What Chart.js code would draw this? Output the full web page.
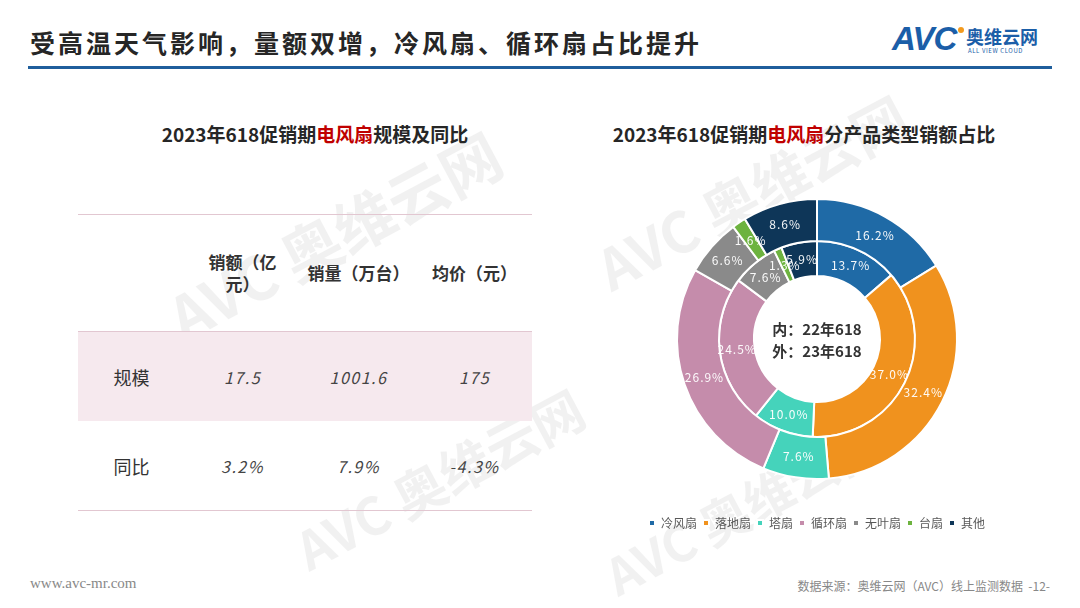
<!DOCTYPE html>
<html lang="zh">
<head>
<meta charset="UTF-8">
<title>电风扇 618</title>
<script src="https://cdn.jsdelivr.net/npm/chart.js"></script>
<style>
    body { margin: 0; width: 1080px; height: 608px; background: #fff; position: relative; overflow: hidden;
           font-family: "Noto Sans CJK SC", "Noto Sans", sans-serif; }
    .abs { position: absolute; }
    #title { left: 30px; top: 24px; font-size: 25px; font-weight: bold; color: #262626; letter-spacing: 3px; }
    #rule { left: 28px; top: 66px; width: 1024px; height: 3px; background: #1f5e9c; }
    .sub { top: 120px; font-size: 19px; font-weight: bold; color: #262626; text-align: center; width: 460px; }
    .sub span { color: #c00000; }
    .wm { color: #000; opacity: 0.05; font-weight: bold; transform: rotate(-28deg); white-space: nowrap; }
    table { border-collapse: collapse; left: 78px; top: 214px; width: 454px; }
    td { text-align: center; padding: 0; }
    tr.head td { height: 116px; font-weight: bold; font-size: 17px; color: #333; line-height: 22px; }
    tr.row td { height: 89px; font-size: 16px; color: #444; font-style: italic; letter-spacing: 1.5px; }
    tr.row td.lab { font-style: normal; font-size: 18px; color: #333; letter-spacing: 0; }
    tr.pink td { background: #f6e9ee; border-top: 1px solid #e2c7d1; }
    #foot1 { left: 30px; top: 575px; font-family: "Liberation Serif", serif; font-size: 15px; color: #888; }
    #foot2 { right: 30px; top: 577px; font-size: 12px; color: #888; }
</style>
</head>
<body>
<div class="abs wm" style="left:150px;top:190px;font-size:60px;">AVC 奥维云网</div>
<div class="abs wm" style="left:280px;top:440px;font-size:52px;">AVC 奥维云网</div>
<div class="abs wm" style="left:580px;top:150px;font-size:56px;">AVC 奥维云网</div>
<div class="abs wm" style="left:590px;top:470px;font-size:50px;">AVC 奥维云网</div>

<div id="title" class="abs">受高温天气影响，量额双增，冷风扇、循环扇占比提升</div>
<div class="abs" style="left:892px;top:20px;font-family:'Liberation Sans',sans-serif;font-size:33px;font-weight:bold;font-style:italic;color:#1b5ea8;letter-spacing:-1px;">AVC</div>
<div class="abs" style="left:958px;top:27px;width:6px;height:6px;border-radius:3px;background:#f39a1e;"></div>
<div class="abs" style="left:966px;top:23px;font-size:18px;font-weight:bold;color:#1b5ea8;">奥维云网</div>
<div class="abs" style="left:968px;top:46px;font-size:6px;color:#1b5ea8;letter-spacing:0.6px;">ALL VIEW CLOUD</div>
<div id="rule" class="abs"></div>

<div class="abs sub" style="left:85px;">2023年618促销期<span>电风扇</span>规模及同比</div>
<div class="abs sub" style="left:574px;">2023年618促销期<span>电风扇</span>分产品类型销额占比</div>

<table class="abs" id="tbl" style="border-top:1px solid #e2c7d1;border-bottom:1px solid #e2c7d1;"></table>

<div class="abs" style="left:617px;top:167px;width:400px;height:372px;">
    <canvas id="pie"></canvas>
</div>

<div id="foot1" class="abs">www.avc-mr.com</div>
<div id="foot2" class="abs">数据来源：奥维云网（AVC）线上监测数据 &nbsp;-12-</div>

<script>
    // table data
    const tableHeads = ['', '销额（亿<br>元）', '销量（万台）', '均价（元）'];
    const rowNames = ['规模', '同比'];
    const scaleValues = ['17.5', '1001.6', '175'];
    const yoyValues = ['3.2%', '7.9%', '-4.3%'];

    // doughnut data
    const categories = ['冷风扇', '落地扇', '塔扇', '循环扇', '无叶扇', '台扇', '其他'];
    const share23 = [16.2, 32.4, 7.6, 26.9, 6.6, 1.6, 8.6];
    const share22 = [13.7, 37.0, 10.0, 24.5, 7.6, 1.3, 5.9];
    const colors = ['#1f6aa6', '#f0921e', '#45d3bb', '#c58cab', '#8a8a8a', '#6db33f', '#0e3658'];

    const colWidths = [107, 115, 117, 115];
    let html = '<tr class="head">';
    tableHeads.forEach((h, i) => { html += '<td style="width:' + colWidths[i] + 'px">' + h + '</td>'; });
    html += '</tr><tr class="row pink"><td class="lab">' + rowNames[0] + '</td>';
    scaleValues.forEach(v => { html += '<td>' + v + '</td>'; });
    html += '</tr><tr class="row"><td class="lab">' + rowNames[1] + '</td>';
    yoyValues.forEach(v => { html += '<td>' + v + '</td>'; });
    html += '</tr>';
    document.getElementById('tbl').innerHTML = html;

    // percent labels on each arc + centre text
    const arcLabels = {
        id: 'arcLabels',
        afterDatasetsDraw(chart) {
            const ctx = chart.ctx;
            ctx.save();
            ctx.font = '12px "Noto Sans CJK SC", sans-serif';
            ctx.letterSpacing = '1px';
            ctx.fillStyle = 'rgba(255,255,255,0.95)';
            ctx.textAlign = 'center';
            ctx.textBaseline = 'middle';
            chart.data.datasets.forEach((ds, di) => {
                chart.getDatasetMeta(di).data.forEach((arc, i) => {
                    const p = arc.tooltipPosition();
                    ctx.fillText(ds.data[i].toFixed(1) + '%', p.x, p.y);
                });
            });
            const a = chart.getDatasetMeta(0).data[0];
            ctx.letterSpacing = '0px';
            ctx.font = 'bold 15px "Noto Sans CJK SC", sans-serif';
            ctx.fillStyle = '#333';
            ctx.fillText('内：22年618', a.x, a.y - 10);
            ctx.fillText('外：23年618', a.x, a.y + 12);
            ctx.restore();
        }
    };

    new Chart(document.getElementById('pie'), {
        type: 'doughnut',
        data: {
            labels: categories,
            datasets: [
                { label: '23年618', data: share23, backgroundColor: colors, borderColor: '#fff', borderWidth: 2, weight: 42 },
                { label: '22年618', data: share22, backgroundColor: colors, borderColor: '#fff', borderWidth: 2, weight: 35 }
            ]
        },
        options: {
            responsive: true,
            maintainAspectRatio: false,
            animation: false,
            radius: 140,
            cutout: '45%',
            plugins: {
                tooltip: { enabled: false },
                legend: {
                    position: 'bottom',
                    labels: {
                        boxWidth: 6, boxHeight: 6, padding: 6,
                        color: '#595959',
                        font: { size: 12, family: '"Noto Sans CJK SC", sans-serif' }
                    }
                }
            }
        },
        plugins: [arcLabels]
    });
</script>
</body>
</html>
